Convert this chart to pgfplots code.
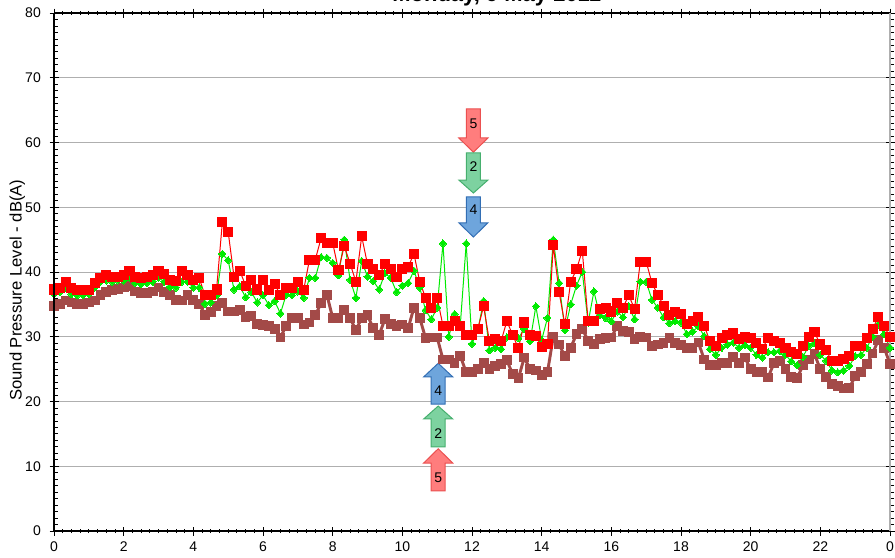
\documentclass[border=0pt]{standalone}
\usepackage{fontspec}
\setmainfont{Liberation Sans}
\usepackage{pgfplots}
\usepackage{pgfplotstable}
\pgfplotsset{compat=1.18}

\definecolor{serRed}{RGB}{255,0,0}
\definecolor{serGreen}{RGB}{0,235,0}
\definecolor{serBrown}{RGB}{163,74,72}
\definecolor{gridGray}{RGB}{175,175,175}
\definecolor{arRed}{RGB}{255,125,125}
\definecolor{arRedD}{RGB}{235,80,80}
\definecolor{arGreen}{RGB}{125,210,160}
\definecolor{arGreenD}{RGB}{70,175,110}
\definecolor{arBlue}{RGB}{110,165,220}
\definecolor{arBlueD}{RGB}{50,110,180}

% n = 10-minute step, r/g/b = red, green, brown series in dB(A)
\pgfplotstableread{
n r g b
0 37.3 36.6 34.8
1 37.6 36.9 35.1
2 38.5 37.6 35.6
3 37.6 36.6 35.3
4 37.2 36.4 35.1
5 37.2 36.4 35.1
6 37.2 36.6 35.3
7 38.3 37.6 35.6
8 39.1 38.5 36.5
9 39.5 38.7 36.9
10 39.3 38.5 37.2
11 39.2 38.7 37.4
12 39.5 38.7 37.6
13 40.2 39.1 37.9
14 39.3 38.3 37.0
15 39.1 38.1 36.7
16 39.3 38.3 36.7
17 39.5 38.5 37.0
18 40.2 39.1 37.6
19 39.7 38.5 36.9
20 38.8 37.7 36.4
21 38.6 37.6 35.7
22 40.2 38.5 35.6
23 39.5 38.5 36.4
24 38.7 37.6 35.7
25 39.1 37.6 35.1
26 36.4 35.1 33.4
27 36.4 35.3 33.8
28 37.3 36.4 34.8
29 47.7 42.8 35.2
30 46.2 41.8 33.9
31 39.3 37.3 33.9
32 40.2 37.8 34.1
33 37.9 36.1 33.0
34 38.7 36.9 33.2
35 37.3 35.3 32.0
36 38.7 36.4 31.8
37 37.2 34.9 31.6
38 38.1 35.5 31.2
39 36.5 33.6 29.9
40 37.6 36.5 31.7
41 37.6 36.4 32.9
42 38.5 37.0 32.9
43 37.2 36.0 31.9
44 41.9 39.1 32.2
45 41.9 39.1 33.3
46 45.2 42.3 35.2
47 44.5 42.2 36.5
48 44.5 41.4 32.9
49 40.3 39.5 32.9
50 44.0 45.0 34.1
51 41.3 38.8 32.9
52 38.5 36.0 31.0
53 45.5 41.7 32.9
54 41.2 39.3 33.3
55 40.5 38.6 31.3
56 39.5 37.3 30.3
57 41.2 39.8 32.7
58 40.5 39.1 32.0
59 39.3 36.9 31.7
60 40.4 37.9 31.9
61 40.8 38.3 31.3
62 42.8 40.2 34.5
63 38.5 37.6 32.9
64 36.0 34.1 29.8
65 34.5 32.7 29.9
66 36.0 34.5 29.9
67 31.7 44.4 26.5
68 31.7 30.0 26.5
69 32.5 33.5 26.0
70 31.7 32.0 27.0
71 30.3 44.4 24.5
72 30.3 28.9 24.5
73 31.2 31.0 25.0
74 34.7 35.5 25.9
75 29.3 27.9 25.0
76 29.6 28.3 25.5
77 29.3 28.1 25.8
78 32.4 29.9 26.4
79 30.3 30.4 24.2
80 28.2 29.8 23.6
81 32.2 31.2 26.8
82 30.3 29.3 25.0
83 30.1 34.7 24.8
84 28.4 29.5 24.1
85 28.9 32.9 24.5
86 44.1 45.0 30.0
87 36.9 38.3 28.8
88 31.9 31.0 27.0
89 38.5 35.0 28.3
90 40.4 37.9 30.4
91 43.3 40.0 31.2
92 32.4 32.2 29.4
93 32.4 37.0 28.9
94 34.3 33.3 29.7
95 34.5 32.9 29.8
96 33.9 32.4 29.9
97 35.2 33.9 31.6
98 34.5 33.0 30.9
99 36.4 34.7 30.7
100 34.3 32.7 29.7
101 41.6 38.5 30.0
102 41.6 38.5 29.9
103 38.3 35.7 28.6
104 36.5 34.5 28.8
105 34.8 33.0 29.0
106 33.4 32.1 29.8
107 33.8 32.4 29.0
108 33.5 32.2 28.7
109 31.9 30.4 28.3
110 32.4 30.8 28.3
111 33.1 31.6 29.1
112 31.7 30.1 26.5
113 29.3 28.1 25.6
114 28.6 27.2 25.6
115 29.8 28.3 25.9
116 30.3 28.8 26.0
117 30.5 29.1 26.9
118 29.6 28.3 26.0
119 30.0 28.7 26.8
120 29.8 28.3 25.0
121 29.1 27.2 24.6
122 28.1 26.8 24.6
123 29.8 27.6 23.7
124 29.3 27.6 25.9
125 29.1 27.8 26.2
126 28.3 27.2 25.0
127 27.7 26.2 23.8
128 27.4 25.6 23.6
129 28.6 26.9 25.6
130 30.0 28.6 26.5
131 30.7 29.0 27.3
132 28.8 27.2 25.0
133 27.9 26.3 23.8
134 26.2 24.8 22.7
135 26.2 24.5 22.4
136 26.5 24.8 22.0
137 27.0 25.5 22.1
138 28.6 27.0 23.9
139 28.6 27.2 24.5
140 29.8 28.3 25.8
141 31.2 30.0 27.4
142 33.0 31.9 29.5
143 31.7 30.4 28.3
144 29.9 28.3 25.8
}\levels

% block arrow: x, base y, head y, tip y, fill, border, label y, label
\newcommand{\blockarrow}[8]{%
  \draw[draw=#6, fill=#5, line width=0.75pt]
    ([xshift=-5.25pt]axis cs:#1,#2) -- ([xshift=5.25pt]axis cs:#1,#2)
    -- ([xshift=5.25pt]axis cs:#1,#3) -- ([xshift=10.9pt]axis cs:#1,#3)
    -- (axis cs:#1,#4) -- ([xshift=-10.9pt]axis cs:#1,#3)
    -- ([xshift=-5.25pt]axis cs:#1,#3) -- cycle;
  \node[font=\fontsize{10.5}{12}\selectfont] at (axis cs:#1,#7) {#8};}

\begin{document}
\begin{tikzpicture}
\begin{axis}[
    scale only axis,
    width=627pt, height=388.5pt,
    xmin=0, xmax=24, ymin=0, ymax=80,
    xtick={0,2,...,24},
    xticklabels={0,2,4,6,8,10,12,14,16,18,20,22,0},
    ytick={0,10,...,80},
    minor x tick num=7,
    minor y tick num=9,
    tick align=center,
    major tick length=6.75pt,
    minor tick length=3pt,
    minor y tick style={xshift=1.5pt},
    tick style={black, line width=0.6pt},
    ymajorgrids,
    major grid style={gridGray, line width=0.75pt},
    axis line style={gridGray, line width=0.9pt},
    separate axis lines,
    x axis line style={black},
    ticklabel style={font=\fontsize{10.5}{12}\selectfont, black},
    yticklabel style={xshift=-3pt},
    xticklabel style={yshift=-1.5pt},
    /pgf/number format/assume math mode=true,
    clip=false,
]
\addplot[serBrown, line width=2.2pt, mark=square*, mark size=3.3pt, mark options={line width=0pt}]
  table[x expr=\thisrow{n}/6, y=b] {\levels};
\addplot[serGreen, line width=0.75pt, mark=diamond*, mark size=2.7pt, mark options={xscale=1.3, line width=0pt}]
  table[x expr=\thisrow{n}/6, y=g] {\levels};
\addplot[serRed, line width=0.75pt, mark=square*, mark size=3.4pt, mark options={line width=0pt}]
  table[x expr=\thisrow{n}/6, y=r] {\levels};

\blockarrow{12.04}{65.2}{60.7}{58.5}{arRed}{arRedD}{62.9}{5}
\blockarrow{12.04}{58.4}{54.2}{52.2}{arGreen}{arGreenD}{56.3}{2}
\blockarrow{12.04}{51.6}{47.6}{45.4}{arBlue}{arBlueD}{49.6}{4}
\blockarrow{11.03}{19.6}{23.8}{25.9}{arBlue}{arBlueD}{21.7}{4}
\blockarrow{11.03}{13.0}{17.3}{19.3}{arGreen}{arGreenD}{15.1}{2}
\blockarrow{11.03}{6.2}{10.5}{12.7}{arRed}{arRedD}{8.3}{5}
\end{axis}
\draw[black, line width=0.9pt] (0,0) -- (0,388.5pt);
\node[rotate=90, font=\fontsize{12.5}{14}\selectfont] at (-27.5pt,180.6pt) {Sound Pressure Level - dB(A)};
\node[font=\bfseries\fontsize{16.5}{18}\selectfont, anchor=base] at (332pt,397pt) {Monday, 9 May 2011};
\pgfresetboundingbox
\useasboundingbox (-40.5pt,-19.5pt) rectangle (630.75pt,398.25pt);
\end{tikzpicture}
\end{document}
